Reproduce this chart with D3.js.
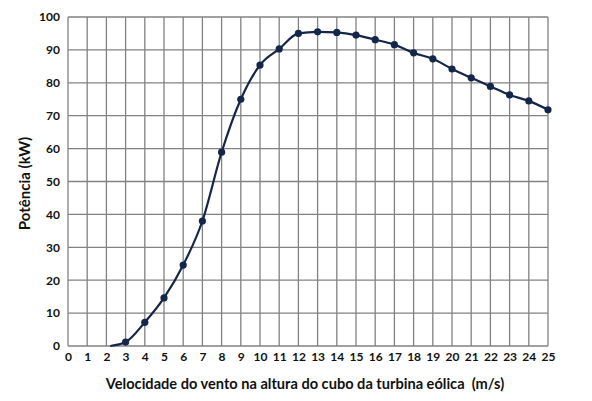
<!DOCTYPE html>
<html><head><meta charset="utf-8">
<script src="https://cdn.jsdelivr.net/npm/d3@7"></script>
<style>html,body{margin:0;padding:0;background:#fff;}svg{display:block;}</style>
</head><body>
<svg id="c" width="592" height="401"></svg>
<script>
const windSpeed = [2.2, 3, 4, 5, 6, 7, 8, 9, 10, 11, 12, 13, 14, 15, 16, 17, 18, 19, 20, 21, 22, 23, 24, 25];
const power = [0, 1.2, 7.2, 14.6, 24.6, 38.0, 58.9, 75.0, 85.4, 90.3, 95.0, 95.5, 95.3, 94.5, 93.1, 91.6, 89.1, 87.3, 84.2, 81.5, 78.9, 76.3, 74.5, 71.8];
const xTicks = d3.range(0, 26, 1);
const yTicks = d3.range(0, 101, 10);
const xTitle = "Velocidade do vento na altura do cubo da turbina eólica  (m/s)";
const yTitle = "Potência (kW)";

const svg = d3.select("#c");
const m = {l: 68, r: 44, t: 17, b: 55};
const W = 592, H = 401;
const x = d3.scaleLinear().domain([0, 25]).range([m.l, W - m.r]);
const y = d3.scaleLinear().domain([0, 100]).range([H - m.b, m.t]);
const font = "Lato, 'Open Sans', sans-serif";
const gridC = "#828282";

const g = svg.append("g");
g.selectAll("line.vx").data(xTicks).join("line")
  .attr("x1", d => x(d)).attr("x2", d => x(d))
  .attr("y1", y(0)).attr("y2", y(100))
  .attr("stroke", gridC).attr("stroke-width", 1.3);
g.selectAll("line.hy").data(yTicks).join("line")
  .attr("x1", x(0)).attr("x2", x(25))
  .attr("y1", d => y(d)).attr("y2", d => y(d))
  .attr("stroke", gridC).attr("stroke-width", 1.3);

const xa = svg.append("g").attr("transform", `translate(0,${y(0)})`)
  .call(d3.axisBottom(x).tickValues(xTicks).tickSize(0).tickPadding(6).tickFormat(d3.format("d")));
xa.select(".domain").remove();
xa.selectAll("text").attr("font-family", font).attr("font-weight", "bold").attr("font-size", 12).attr("fill", "#111");

const ya = svg.append("g").attr("transform", `translate(${x(0)},0)`)
  .call(d3.axisLeft(y).tickValues(yTicks).tickSize(0).tickPadding(8).tickFormat(d3.format("d")));
ya.select(".domain").remove();
ya.selectAll("text").attr("font-family", font).attr("font-weight", "bold").attr("font-size", 12).attr("fill", "#111");

const data = windSpeed.map((s, i) => ({s, p: power[i]}));
const line = d3.line().x(d => x(d.s)).y(d => y(d.p)).curve(d3.curveMonotoneX);
svg.append("path").datum(data).attr("d", line)
  .attr("fill", "none").attr("stroke", "#14264a").attr("stroke-width", 2.2);
svg.selectAll("circle.pt").data(data.slice(1)).join("circle")
  .attr("cx", d => x(d.s)).attr("cy", d => y(d.p)).attr("r", 3.6)
  .attr("fill", "#14264a");

svg.append("text").attr("x", 305).attr("y", 389).attr("text-anchor", "middle")
  .style("white-space", "pre")
  .attr("font-family", font).attr("font-weight", "bold").attr("font-size", 14.6).attr("fill", "#111")
  .text(xTitle);
svg.append("text").attr("transform", `translate(30,${(y(0)+y(100))/2 + 2}) rotate(-90)`)
  .attr("text-anchor", "middle")
  .attr("font-family", font).attr("font-weight", "bold").attr("font-size", 15).attr("fill", "#111")
  .text(yTitle);
</script>
</body></html>
